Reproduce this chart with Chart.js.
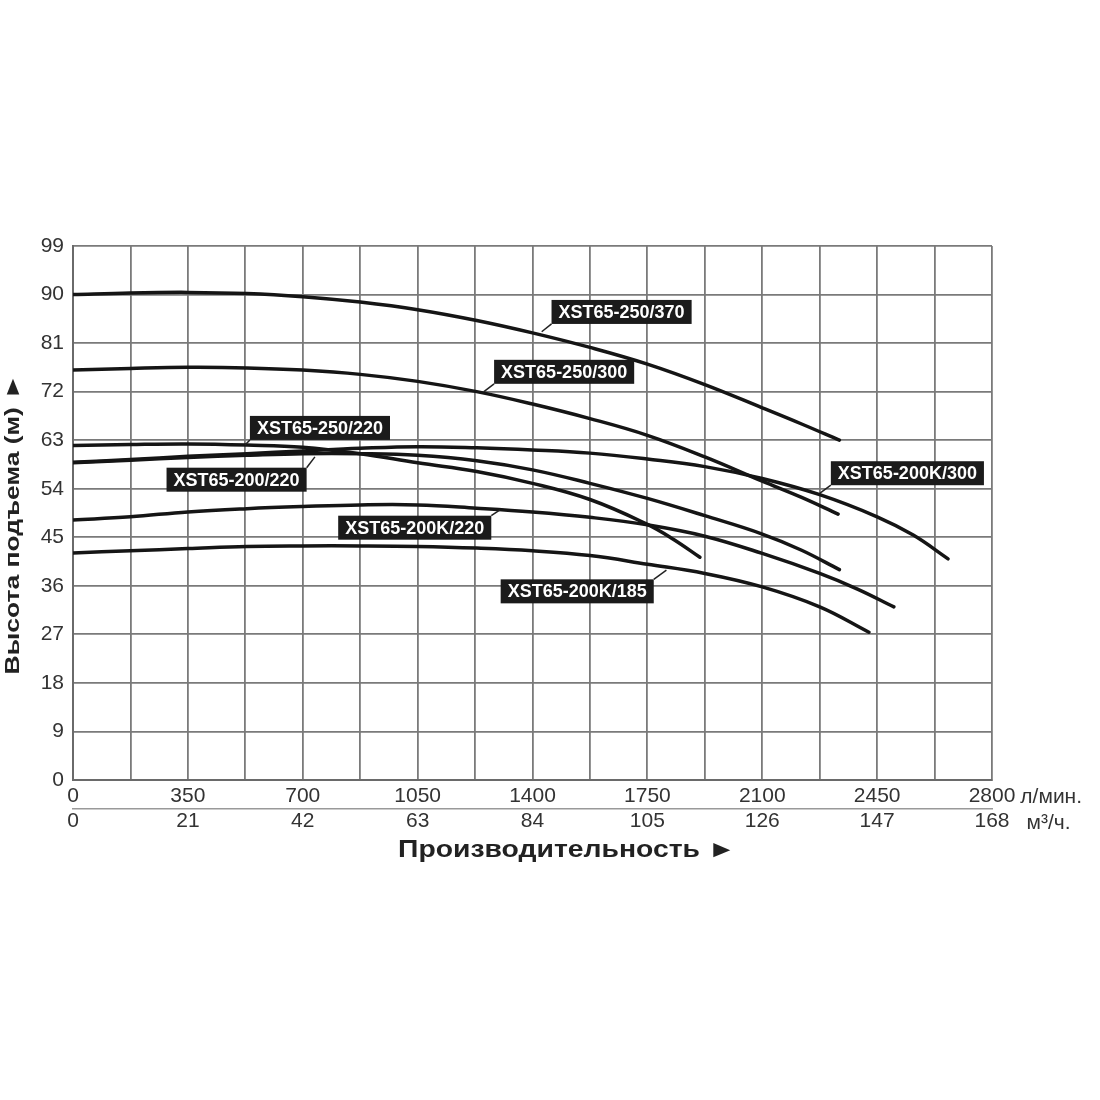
<!DOCTYPE html>
<html><head><meta charset="utf-8">
<script src="https://cdn.jsdelivr.net/npm/chart.js@4.4.1/dist/chart.umd.min.js"></script>
<style>html,body{margin:0;padding:0;background:#fff;}canvas{display:block;}</style>
</head><body>
<canvas id="c" width="1100" height="1100"></canvas>
<script>
// ---- data (flow in l/min, head in m) ----
const seriesNames = ["XST65-250/370","XST65-250/300","XST65-250/220","XST65-200/220","XST65-200K/300","XST65-200K/220","XST65-200K/185"];
const flow_250_370 = [0,175,350,530,700,875,1050,1230,1400,1575,1750,1925,2100,2220,2335];
const head_250_370 = [90.0,90.3,90.4,90.2,89.6,88.6,87.2,85.2,82.9,80.2,77.1,73.3,69.0,66.0,63.0];
const flow_250_300 = [0,175,350,530,700,875,1050,1230,1400,1575,1750,1925,2100,2220,2331];
const head_250_300 = [76.0,76.3,76.5,76.4,76.0,75.2,73.9,72.0,69.7,67.0,63.9,59.9,55.4,52.4,49.3];
const flow_250_220 = [0,175,350,530,700,875,1050,1230,1400,1575,1750,1830,1910];
const head_250_220 = [62.0,62.2,62.3,62.1,61.7,60.5,58.8,57.2,55.0,52.0,47.4,44.6,41.3];
const flow_200_220 = [0,175,350,530,700,875,1050,1230,1400,1575,1750,1925,2100,2220,2335];
const head_200_220 = [58.8,59.3,59.8,60.2,60.5,60.5,60.2,59.2,57.5,55.0,52.2,49.0,45.6,42.6,39.0];
const flow_200K_300 = [0,175,350,530,700,875,1050,1230,1400,1575,1750,1925,2100,2275,2450,2560,2666];
const head_200K_300 = [58.9,59.4,60.0,60.5,61.0,61.5,61.8,61.6,61.2,60.6,59.5,58.1,55.9,52.9,48.8,45.4,41.0];
const flow_200K_220 = [0,175,350,530,700,875,1050,1230,1400,1575,1750,1925,2100,2275,2390,2501];
const head_200K_220 = [48.2,48.8,49.7,50.3,50.7,51.0,51.0,50.4,49.7,48.7,47.3,45.2,42.0,38.3,35.4,32.1];
const flow_200K_185 = [0,175,350,530,700,875,1050,1230,1400,1575,1750,1925,2100,2275,2425];
const head_200K_185 = [42.1,42.5,42.9,43.3,43.4,43.4,43.3,43.0,42.5,41.6,40.0,38.3,35.8,32.1,27.4];

// axis ticks
const flowTicksLpm = [0,350,700,1050,1400,1750,2100,2450,2800];
const flowTicksM3h = [0,21,42,63,84,105,126,147,168];
const headTicks = [0,9,18,27,36,45,54,63,72,81,90,99];
const unitLpm = "л/мин.";
const unitM3h = "м³/ч.";
const yTitle = "Высота подъема (м) ►";
const xTitle = "Производительность ►";

// label placements (data units: box top-left, pointer end)
const labelPlacement = {
  "XST65-250/370":  {bx:1458, by:89.0, px:1428, py:83.1, corner:"bl"},
  "XST65-250/300":  {bx:1283, by:77.9, px:1252, py:72.0, corner:"bl"},
  "XST65-250/220":  {bx:539,  by:67.5, px:524,  py:62.1, corner:"bl"},
  "XST65-200/220":  {bx:285,  by:57.9, px:737,  py:59.9, corner:"tr"},
  "XST65-200K/300": {bx:2309, by:59.1, px:2276, py:53.2, corner:"bl"},
  "XST65-200K/220": {bx:808,  by:49.0, px:1301, py:50.1, corner:"tr"},
  "XST65-200K/185": {bx:1303, by:37.2, px:1808, py:38.9, corner:"tr"}
};

const curves = [
  [flow_250_370, head_250_370],
  [flow_250_300, head_250_300],
  [flow_250_220, head_250_220],
  [flow_200_220, head_200_220],
  [flow_200K_300, head_200K_300],
  [flow_200K_220, head_200K_220],
  [flow_200K_185, head_200K_185]
];

const FONT = '"Liberation Sans", Arial, sans-serif';
const GRID = '#7a7a7a';

const datasets = curves.map((c, i) => ({
  label: seriesNames[i],
  data: c[0].map((x, k) => ({x: x, y: c[1][k]})),
  borderColor: '#151515',
  borderWidth: 3.5,
  pointRadius: 0,
  fill: false,
  tension: 0.4,
  borderCapStyle: 'round',
  borderJoinStyle: 'round'
}));

function stretchedText(ctx, text, x, y, sx) {
  ctx.save();
  ctx.translate(x, y);
  ctx.scale(sx, 1);
  ctx.fillText(text, 0, 0);
  ctx.restore();
}

const decor = {
  id: 'decor',
  afterDatasetsDraw(chart) {
    const ctx = chart.ctx;
    const xs = chart.scales.x, ys = chart.scales.y;
    ctx.save();
    ctx.font = 'bold 18px ' + FONT;
    seriesNames.forEach(name => {
      const p = labelPlacement[name];
      const x0 = xs.getPixelForValue(p.bx), y0 = ys.getPixelForValue(p.by);
      const w = ctx.measureText(name).width + 14, h = 24;
      const sx = p.corner === 'bl' ? x0 : x0 + w;
      const sy = p.corner === 'bl' ? y0 + h : y0;
      ctx.strokeStyle = '#222'; ctx.lineWidth = 1.5;
      ctx.beginPath(); ctx.moveTo(sx, sy);
      ctx.lineTo(xs.getPixelForValue(p.px), ys.getPixelForValue(p.py)); ctx.stroke();
      ctx.fillStyle = '#1b1b1b';
      ctx.fillRect(x0, y0, w, h);
      ctx.fillStyle = '#ffffff';
      ctx.textAlign = 'left'; ctx.textBaseline = 'middle';
      ctx.fillText(name, x0 + 7, y0 + h / 2 + 1);
    });
    ctx.restore();
  },
  afterDraw(chart) {
    const ctx = chart.ctx;
    const xs = chart.scales.x, x2 = chart.scales.x2;
    ctx.save();
    ctx.fillStyle = '#333';
    ctx.font = '21px ' + FONT;
    ctx.textBaseline = 'middle'; ctx.textAlign = 'left';
    const lastL = String(flowTicksLpm[flowTicksLpm.length - 1]);
    const lastM = String(flowTicksM3h[flowTicksM3h.length - 1]);
    const px = xs.getPixelForValue(flowTicksLpm[flowTicksLpm.length - 1]);
    ctx.fillText(unitLpm, px + ctx.measureText(lastL).width / 2 + 5, xs.top + 17);
    ctx.fillText(unitM3h, x2.getPixelForValue(flowTicksM3h[flowTicksM3h.length - 1]) + ctx.measureText(lastM).width / 2 + 17, x2.top + 14);
    // titles
    ctx.fillStyle = '#222';
    ctx.textAlign = 'center';
    ctx.font = 'bold 24px ' + FONT;
    stretchedText(ctx, xTitle, 567, 850, 1.18);
    ctx.translate(13, 524);
    ctx.rotate(-Math.PI / 2);
    ctx.font = 'bold 21px ' + FONT;
    stretchedText(ctx, yTitle, 0, 0, 1.26);
    ctx.restore();
  }
};

new Chart(document.getElementById('c'), {
  type: 'line',
  data: {datasets},
  plugins: [decor],
  options: {
    responsive: false,
    animation: false,
    events: [],
    layout: {padding: {left: 0, top: 246, right: 108, bottom: 261}},
    plugins: {legend: {display: false}, tooltip: {enabled: false}, title: {display: false}},
    scales: {
      x: {
        type: 'linear', position: 'bottom', min: 0, max: 2800,
        afterBuildTicks: s => { const t = []; for (let v = 0; v <= 2800; v += 175) t.push({value: v}); s.ticks = t; },
        afterFit: s => { s.height = 29; },
        grid: {color: GRID, lineWidth: 1.8, drawTicks: false},
        border: {color: '#6a6a6a', width: 2},
        ticks: {
          autoSkip: false, maxRotation: 0, padding: 4, color: '#333',
          font: {family: FONT, size: 21},
          callback: v => flowTicksLpm.includes(v) ? String(v) : ''
        }
      },
      x2: {
        type: 'linear', position: 'bottom', min: 0, max: 168,
        afterBuildTicks: s => { s.ticks = flowTicksM3h.map(v => ({value: v})); },
        afterFit: s => { s.height = 30; },
        grid: {display: false, drawTicks: false},
        border: {display: true, color: '#999', width: 1.5},
        ticks: {autoSkip: false, maxRotation: 0, padding: 0, color: '#333', font: {family: FONT, size: 21}}
      },
      y: {
        type: 'linear', min: 0, max: 99,
        afterBuildTicks: s => { s.ticks = headTicks.map(v => ({value: v})); },
        afterFit: s => { s.width = 73; },
        grid: {color: GRID, lineWidth: 1.8, drawTicks: false},
        border: {color: '#6a6a6a', width: 2},
        ticks: {padding: 9, color: '#333', font: {family: FONT, size: 21}}
      }
    }
  }
});
</script>
</body></html>
